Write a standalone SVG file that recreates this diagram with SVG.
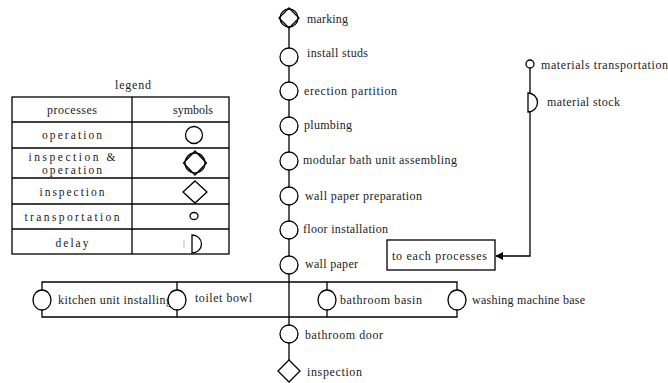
<svg xmlns="http://www.w3.org/2000/svg" width="668" height="383" viewBox="0 0 668 383">
<style>
.ln{stroke:#000;stroke-width:1.3;fill:none}
.op{stroke:#000;stroke-width:1.3;fill:#fff}
.nf{fill:none}
.t{font-family:"Liberation Serif","Times New Roman",serif;font-size:12px;fill:#222}
.m{font-family:"Liberation Serif","Times New Roman",serif;font-size:11.5px;fill:#222;text-anchor:middle}
.c{text-anchor:middle}
</style>
<defs>
<marker id="ah" viewBox="0 0 10 10" refX="9" refY="5" markerWidth="8" markerHeight="8" markerUnits="userSpaceOnUse" orient="auto">
<path d="M0,0 L10,5 L0,10 z" fill="#000"/>
</marker>
</defs>
<rect width="668" height="383" fill="#fff"/>

<g id="connectors">
<line class="ln" x1="289" y1="28" x2="289" y2="361"/>
<polyline class="ln" points="42,300 42,282 457,282 457,300"/>
<polyline class="ln" points="42,300 42,317 457,317 457,300"/>
<line class="ln" x1="177" y1="282" x2="177" y2="317"/>
<line class="ln" x1="327" y1="282" x2="327" y2="317"/>
<polyline class="ln" points="530,68 530,256 496,256" marker-end="url(#ah)"/>
</g>

<g id="legend">
<text class="t c" x="133" y="89" textLength="36">legend</text>
<rect x="12" y="97" width="217" height="157" class="ln"/>
<line class="ln" x1="132" y1="97" x2="132" y2="254"/>
<line class="ln" x1="12" y1="122" x2="229" y2="122"/>
<line class="ln" x1="12" y1="148" x2="229" y2="148"/>
<line class="ln" x1="12" y1="178" x2="229" y2="178"/>
<line class="ln" x1="12" y1="204" x2="229" y2="204"/>
<line class="ln" x1="12" y1="229" x2="229" y2="229"/>
<text class="t c" x="72" y="114" textLength="50">processes</text>
<text class="t c" x="193" y="114" textLength="40">symbols</text>
<text class="m" x="72" y="139" textLength="60">operation</text>
<text class="m" x="72" y="161" textLength="87">inspection &amp;</text>
<text class="m" x="72" y="174" textLength="60">operation</text>
<text class="m" x="72" y="196" textLength="65">inspection</text>
<text class="m" x="72" y="221" textLength="95">transportation</text>
<text class="m" x="72" y="247" textLength="33">delay</text>
<circle class="op" cx="194" cy="135" r="8.5"/>
<circle class="op" cx="195" cy="163" r="10"/>
<polygon class="op nf" points="195,151 206.5,163 195,175 183.5,163"/>
<polygon class="op" points="195,181 207,192 195,203 183,192"/>
<ellipse class="op" cx="194" cy="216" rx="4" ry="3.5"/>
<path class="op" d="M192,235 A9.5,9 0 0 1 192,253 Z"/>
<line x1="184" y1="240" x2="184" y2="248" stroke="#bbb" stroke-width="1"/>
</g>

<g id="marking">
<circle class="op" cx="289" cy="18" r="9"/>
<polygon class="op nf" points="289,8 299,18 289,28 279,18"/>
<text class="t" x="307" y="23" textLength="41">marking</text>
</g>
<g id="install-studs">
<circle class="op" cx="289" cy="57" r="9"/>
<text class="t" x="307" y="57" textLength="61">install studs</text>
</g>
<g id="erection-partition">
<circle class="op" cx="289" cy="91" r="9"/>
<text class="t" x="304" y="95" textLength="93">erection partition</text>
</g>
<g id="plumbing">
<circle class="op" cx="289" cy="126" r="9"/>
<text class="t" x="304" y="129" textLength="48">plumbing</text>
</g>
<g id="modular-bath">
<circle class="op" cx="289" cy="161" r="9"/>
<text class="t" x="303" y="164" textLength="154">modular bath unit assembling</text>
</g>
<g id="wall-paper-preparation">
<circle class="op" cx="289" cy="196" r="9"/>
<text class="t" x="305" y="200" textLength="117">wall paper preparation</text>
</g>
<g id="floor-installation">
<circle class="op" cx="289" cy="230" r="9"/>
<text class="t" x="303" y="233" textLength="85">floor installation</text>
</g>
<g id="wall-paper">
<circle class="op" cx="289" cy="265" r="9"/>
<text class="t" x="305" y="268" textLength="53">wall paper</text>
</g>
<g id="kitchen">
<ellipse class="op" cx="42" cy="300" rx="9" ry="10"/>
<text class="t" x="58" y="304" textLength="114">kitchen unit installing</text>
</g>
<g id="toilet">
<ellipse class="op" cx="177" cy="300" rx="9" ry="10"/>
<text class="t" x="195" y="302" textLength="57">toilet bowl</text>
</g>
<g id="basin">
<ellipse class="op" cx="327" cy="300" rx="9" ry="10"/>
<text class="t" x="340" y="304" textLength="82">bathroom basin</text>
</g>
<g id="washing">
<ellipse class="op" cx="457" cy="300" rx="9" ry="10"/>
<text class="t" x="472" y="304" textLength="113">washing machine base</text>
</g>
<g id="bathroom-door">
<circle class="op" cx="289" cy="334" r="9"/>
<text class="t" x="305" y="339" textLength="78">bathroom door</text>
</g>
<g id="inspection">
<polygon class="op" points="289,360 300,371 289,382 278,371"/>
<text class="t" x="307" y="376" textLength="55">inspection</text>
</g>
<g id="materials-transportation">
<circle class="op" cx="530" cy="64" r="4"/>
<text class="t" x="541" y="69" textLength="127">materials transportation</text>
</g>
<g id="material-stock">
<path class="op" d="M528,93 A9.5,9.5 0 0 1 528,112 Z"/>
<text class="t" x="547" y="106" textLength="73">material stock</text>
</g>
<g id="to-each-processes">
<rect class="op" x="387" y="240" width="108" height="30"/>
<text class="t" x="392" y="260" textLength="95">to each processes</text>
</g>
</svg>
